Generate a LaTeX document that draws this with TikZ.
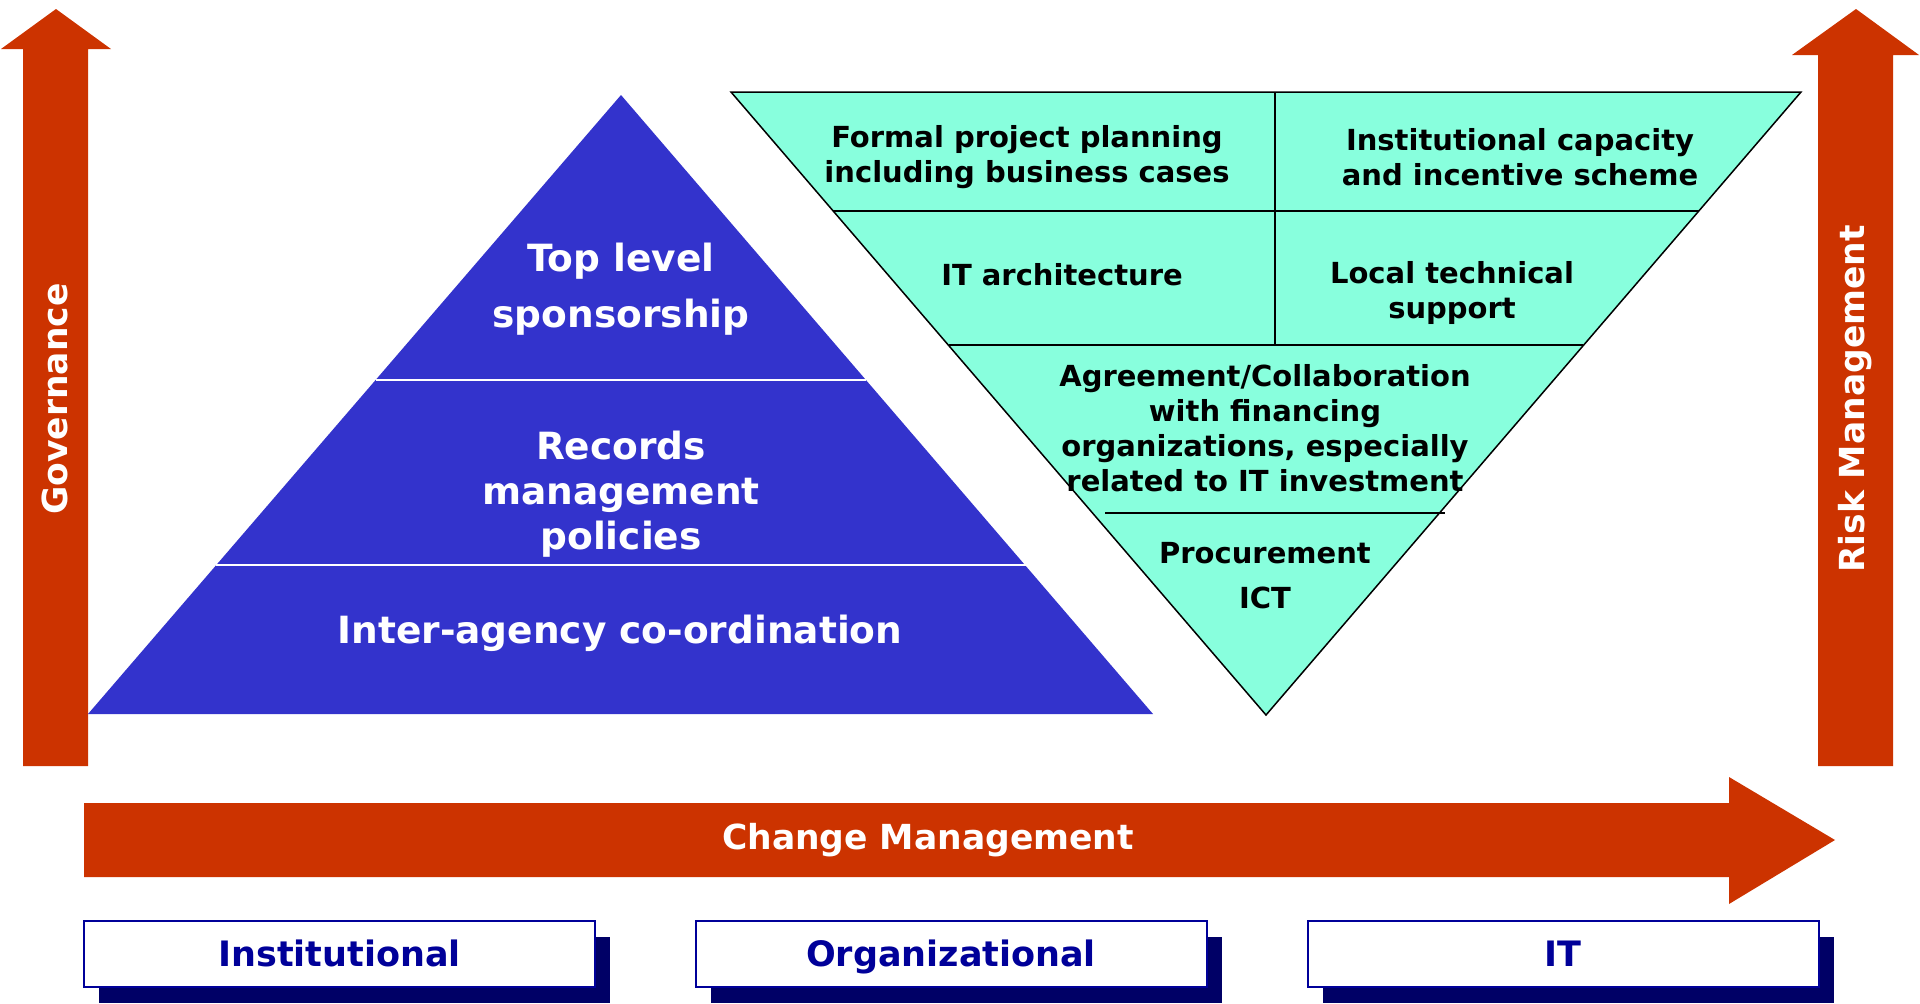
\documentclass[tikz,border=0pt]{standalone}
\usepackage{fontspec}
\setmainfont{DejaVu Sans}
\usetikzlibrary{positioning,shadows}

\definecolor{arrowred}{HTML}{CC3300}
\definecolor{pyrblue}{HTML}{3333CC}
\definecolor{cupgreen}{HTML}{88FFDD}
\definecolor{boxnavy}{HTML}{000066}
\definecolor{labelnavy}{HTML}{000099}

\begin{document}
\begin{tikzpicture}[x=1pt,y=-1pt,
                    pyr text/.style={text=white,align=center,inner sep=0pt,
                                     font=\fontsize{37.5}{45}\selectfont\bfseries},
                    cup text/.style={text=black,align=center,inner sep=0pt,
                                     font=\fontsize{29}{35}\selectfont\bfseries},
                    band text/.style={text=white,inner sep=0pt,
                                      font=\fontsize{34.5}{40}\selectfont\bfseries},
                    layer box/.style={draw=labelnavy,line width=2pt,fill=white,
                                      minimum width=511pt,minimum height=66pt,
                                      text=labelnavy,inner sep=0pt,
                                      text height=25.5pt,text depth=0pt,
                                      font=\fontsize{35}{40}\selectfont\bfseries,
                                      general shadow={fill=boxnavy,shadow xshift=15pt,
                                                      shadow yshift=-16pt}}
                   ]
   \useasboundingbox (0,0) rectangle (1920,1004);

   % side and bottom arrows
   \fill[arrowred] (23,766) -- (23,49) -- (1,49) -- (56,9) -- (111,49)
                   -- (88,49) -- (88,766) -- cycle;
   \fill[arrowred] (1818,766) -- (1818,55) -- (1792,55) -- (1856,9) -- (1919,55)
                   -- (1893,55) -- (1893,766) -- cycle;
   \fill[arrowred] (84,803) -- (1729,803) -- (1729,777) -- (1835,840)
                   -- (1729,904) -- (1729,877) -- (84,877) -- cycle;

   \node[band text,rotate=90] (gov) at (55,399) {Governance};
   \node[band text,rotate=90] (risk) at (1855,399) {Risk Management};
   \node[band text] (change) at (928,840) {Change Management};

   % pyramid
   \fill[pyrblue] (621,95) -- (1153,714) -- (88,714) -- cycle;
   \draw[white,line width=1.5pt] (376,380) -- (866,380);
   \draw[white,line width=1.5pt] (216,565) -- (1026,565);

   \node[pyr text,font=\fontsize{37.5}{56}\selectfont\bfseries] (top) at (621,289)
        {Top level\\sponsorship};
   \node[pyr text] (records) at (621,494) {Records\\management\\policies};
   \node[pyr text] (inter) at (620,633) {Inter-agency co-ordination};

   % inverted pyramid
   \filldraw[fill=cupgreen,draw=black,line width=1.5pt]
        (731,92) -- (1801,92) -- (1266,715) -- cycle;
   \draw[line width=1.5pt] (833,211) -- (1699,211);
   \draw[line width=1.5pt] (949,345) -- (1583,345);
   \draw[line width=1.5pt] (1275,92) -- (1275,345);
   \draw[line width=1.5pt] (1105,513) -- (1445,513);

   \node[cup text] (formal) at (1027,157) {Formal project planning\\including business cases};
   \node[cup text] (capacity) at (1520,157) {Institutional capacity\\and incentive scheme};
   \node[cup text] (arch) at (1062,275) {IT architecture};
   \node[cup text] (support) at (1452,293) {Local technical\\support};
   \node[cup text] (agree) at (1265,428)
        {Agreement/Collaboration\\with financing\\organizations, especially\\related to IT investment};
   \node[cup text,font=\fontsize{29}{45}\selectfont\bfseries] (ict) at (1265,576)
        {Procurement\\ICT};

   % layers
   \node[layer box] (inst) at (339.5,954) {Institutional};
   \node[layer box] (org) at (951,954) {Organizational};
   \node[layer box] (it) at (1563,954) {IT};
 \end{tikzpicture}
\end{document}
